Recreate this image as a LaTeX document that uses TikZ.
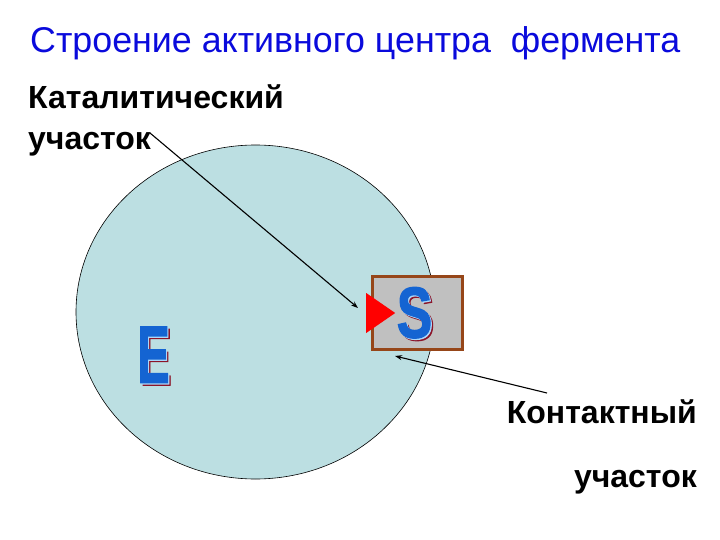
\documentclass[tikz,border=0pt]{standalone}
\usepackage{fontspec}
\setmainfont{Liberation Sans}
\newfontfamily\heavyfont{Liberation Sans}[UprightFont=*, BoldFont=* Bold, BoldFeatures={FakeBold=1.8}]
\usetikzlibrary{shapes.geometric,arrows.meta}
\definecolor{titleblue}{RGB}{10,10,220}
\definecolor{enzfill}{RGB}{188,223,226}
\definecolor{boxbrown}{RGB}{150,70,25}
\definecolor{boxgray}{RGB}{192,192,192}
\definecolor{letblue}{RGB}{20,100,210}
\definecolor{letshadow}{RGB}{140,20,40}
\definecolor{letlight}{RGB}{170,215,250}
\tikzset{
  lbl/.style={font=\bfseries\fontsize{32}{36}\selectfont, inner sep=0pt},
  conn/.style={-{Stealth[length=7pt,width=5pt]}, line width=1.1pt, black},
  fancy/.style={inner sep=0pt},
}
\newcommand{\fancyletter}[2]{% x-scale, letter
  \rlap{\raisebox{-2.5pt}{\hspace{2.5pt}\color{letshadow}\scalebox{#1}[1]{#2}}}%
  \rlap{\raisebox{-1.2pt}{\hspace{1.2pt}\color{letlight}\scalebox{#1}[1]{#2}}}%
  {\color{letblue}\scalebox{#1}[1]{#2}}}
\begin{document}
\begin{tikzpicture}[x=1pt,y=-1pt]
\useasboundingbox (0,0) rectangle (720,540);
% title
\node[text=titleblue, font=\fontsize{35.8}{40}\selectfont, inner sep=0pt, anchor=base west] (title) at (30,53) {Строение активного центра\ \ фермента};
% enzyme
\node[ellipse, draw=black, line width=0.6pt, fill=enzfill, minimum width=359pt, minimum height=334pt, inner sep=0pt] (enz) at (255.5,312) {};
% substrate box
\node[draw=boxbrown, line width=2.6pt, fill=boxgray, minimum width=90pt, minimum height=73pt, inner sep=0pt] (box) at (417.5,313) {};
% active site triangle
\node[isosceles triangle, isosceles triangle stretches=true, fill=red, inner sep=0pt, minimum height=29pt, minimum width=40pt, anchor=west] (tri) at (366,313) {};
% letters
\node[fancy, font=\heavyfont\bfseries\fontsize{72}{72}\selectfont] (S) at (414.5,314) {\fancyletter{0.74}{S}};
\node[fancy, font=\heavyfont\bfseries\fontsize{81}{81}\selectfont] (E) at (153.5,356) {\fancyletter{0.60}{E}};
% labels
\node[lbl, anchor=base west] (cat1) at (28,109) {Каталитический};
\node[lbl, anchor=base west] (cat2) at (28,150) {участок};
\node[lbl, anchor=base east] (con1) at (697,423) {Контактный};
\node[lbl, anchor=base east] (con2) at (697,487) {участок};
% connectors
\coordinate (catstart) at (150,133);
\coordinate (catend) at (358,308);
\coordinate (constart) at (547,393);
\coordinate (conend) at (395,356);
\draw[conn] (catstart) -- (catend);
\draw[conn] (constart) -- (conend);
\end{tikzpicture}
\end{document}
